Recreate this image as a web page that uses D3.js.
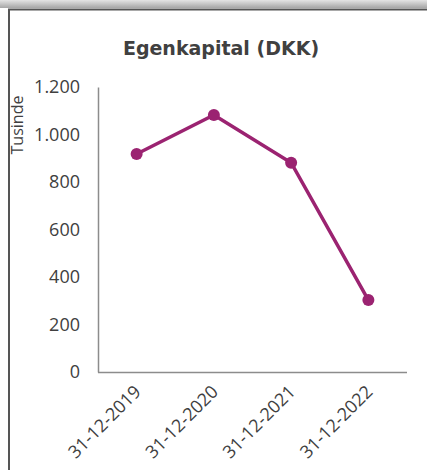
<!DOCTYPE html>
<html>
<head>
<meta charset="utf-8">
<script src="https://cdn.jsdelivr.net/npm/d3@7"></script>
<style>
  body { margin: 0; background: #fff; }
  svg { display: block; }
</style>
</head>
<body>
<div id="chart"></div>
<script>
// chart data
const dates = ["31-12-2019", "31-12-2020", "31-12-2021", "31-12-2022"];
const egenkapital = [918, 1082, 881, 303];
const yTicks = [0, 200, 400, 600, 800, 1000, 1200];

const width = 427;
const height = 470;
const margin = {left: 98, right: 20, top: 87, bottom: 98};
const lineColor = "#9b2371";

const svg = d3.select("#chart")
  .append("svg")
  .attr("width", width)
  .attr("height", height);

// top frame strip with shadow
const grad = svg.append("defs").append("linearGradient")
  .attr("id", "topGrad")
  .attr("x1", 0).attr("y1", 0).attr("x2", 0).attr("y2", 1);
grad.append("stop").attr("offset", "0%").attr("stop-color", "#e4e4e4");
grad.append("stop").attr("offset", "100%").attr("stop-color", "#a6a6a6");

svg.append("rect")
  .attr("x", 0).attr("y", 0)
  .attr("width", width).attr("height", 8)
  .attr("fill", "url(#topGrad)");

// chart border (top + left)
svg.append("path")
  .attr("d", `M9,${height} V9.5 H${width}`)
  .attr("fill", "none")
  .attr("stroke", "#555")
  .attr("stroke-width", 2);

// scales
const x = d3.scalePoint()
  .domain(dates)
  .range([margin.left, width - margin.right])
  .padding(0.5);

const y = d3.scaleLinear()
  .domain([0, 1200])
  .range([height - margin.bottom, margin.top]);

// y axis
const yAxis = svg.append("g")
  .attr("transform", `translate(${margin.left},0)`)
  .call(d3.axisLeft(y)
    .tickValues(yTicks)
    .tickSize(0)
    .tickPadding(18)
    .tickFormat(d => d3.format(",")(d).replace(/,/g, ".")));
yAxis.select(".domain").attr("stroke", "#8c8c8c").attr("stroke-width", 1.5);
yAxis.selectAll("text")
  .attr("font-family", "Open Sans, sans-serif")
  .attr("font-size", "18px")
  .attr("fill", "#404040");

// x axis
const xAxis = svg.append("g")
  .attr("transform", `translate(0,${height - margin.bottom})`)
  .call(d3.axisBottom(x).tickSize(0).tickPadding(0));
xAxis.select(".domain").attr("stroke", "#8c8c8c").attr("stroke-width", 1.5)
  .attr("d", `M${margin.left},0.5H${width - margin.right}`);
xAxis.selectAll("text")
  .attr("font-family", "Open Sans, sans-serif")
  .attr("font-size", "18px")
  .attr("fill", "#404040")
  .attr("text-anchor", "end")
  .attr("dy", "0")
  .attr("transform", "translate(5,21) rotate(-45)");

// y axis title
svg.append("text")
  .attr("transform", "translate(23,125) rotate(-90)")
  .attr("text-anchor", "middle")
  .attr("font-family", "Open Sans, sans-serif")
  .attr("font-size", "16px")
  .attr("fill", "#404040")
  .text("Tusinde");

// title
svg.append("text")
  .attr("x", 221)
  .attr("y", 55)
  .attr("text-anchor", "middle")
  .attr("font-family", "DejaVu Sans, sans-serif")
  .attr("font-weight", "bold")
  .attr("font-size", "19px")
  .attr("fill", "#404040")
  .text("Egenkapital (DKK)");

// line + markers
const line = d3.line()
  .x((d, i) => x(dates[i]))
  .y(d => y(d));

svg.append("path")
  .datum(egenkapital)
  .attr("d", line)
  .attr("fill", "none")
  .attr("stroke", lineColor)
  .attr("stroke-width", 3.5);

svg.selectAll(".dot")
  .data(egenkapital)
  .enter()
  .append("circle")
    .attr("class", "dot")
    .attr("cx", (d, i) => x(dates[i]))
    .attr("cy", d => y(d))
    .attr("r", 6)
    .attr("fill", lineColor);
</script>
</body>
</html>
